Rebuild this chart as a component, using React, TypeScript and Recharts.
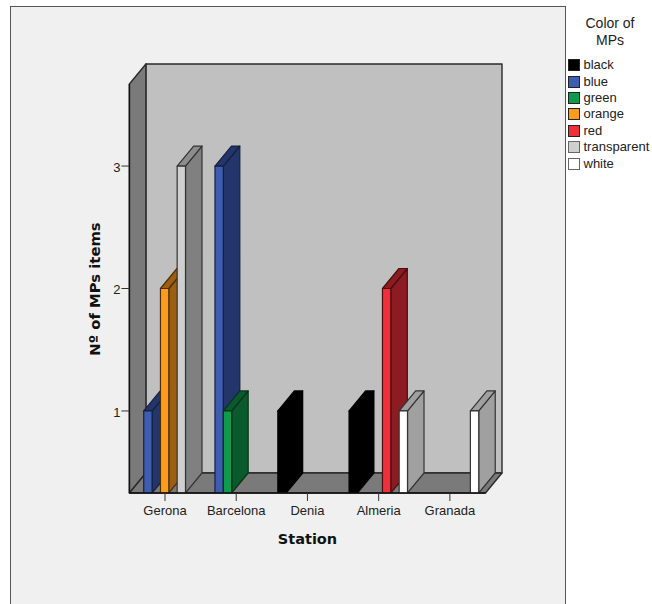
import React from "react";
import { BarChart, Bar, XAxis, YAxis, ReferenceArea, Legend } from "recharts";

const stations = ["Gerona", "Barcelona", "Denia", "Almeria", "Granada"];
const black = [null, null, 1, 1, null];
const blue = [1, 3, null, null, null];
const green = [null, 1, null, null, null];
const orange = [2, null, null, null, null];
const red = [null, null, null, 2, null];
const transparent = [3, null, null, null, null];
const white = [null, null, null, 1, 1];
const yTicks = [1, 2, 3];
const yDomain = [0.33, 3.67];

const data = stations.map((station, i) => ({
  station,
  black: black[i],
  blue: blue[i],
  green: green[i],
  orange: orange[i],
  red: red[i],
  transparent: transparent[i],
  white: white[i],
}));

const DX = 16.5;
const DY = 20;
const EDGE = "#2a2a2a";

type Style = { key: string; front: string; side: string; top: string; edge: string; swatchEdge: string };
const styles: Style[] = [
  { key: "black", front: "#000000", side: "#000000", top: "#000000", edge: "#000000", swatchEdge: "#222222" },
  { key: "blue", front: "#3f5db0", side: "#24356b", top: "#24356b", edge: "#14203f", swatchEdge: "#222222" },
  { key: "green", front: "#0f9a4e", side: "#0b5a2d", top: "#0b5a2d", edge: "#08331b", swatchEdge: "#222222" },
  { key: "orange", front: "#fd9b1c", side: "#9a5f13", top: "#9a5f13", edge: "#4d3008", swatchEdge: "#222222" },
  { key: "red", front: "#ef2f3a", side: "#8c1c22", top: "#8c1c22", edge: "#4a0e12", swatchEdge: "#222222" },
  { key: "transparent", front: "#cfcfcf", side: "#808080", top: "#8c8c8c", edge: "#333333", swatchEdge: "#666666" },
  { key: "white", front: "#ffffff", side: "#a0a0a0", top: "#a0a0a0", edge: "#333333", swatchEdge: "#666666" },
];

const Bar3D = (style: Style) => (props: any) => {
  const { x, y, width, height, value } = props;
  if (value == null || !height) return null;
  const b = y + height;
  const r = x + width;
  const common = { stroke: style.edge, strokeWidth: 1.2, strokeLinejoin: "round" as const };
  return (
    <g>
      <polygon points={`${r},${y} ${r + DX},${y - DY} ${r + DX},${b - DY} ${r},${b}`} fill={style.side} {...common} />
      <polygon points={`${x},${y} ${x + DX},${y - DY} ${r + DX},${y - DY} ${r},${y}`} fill={style.top} {...common} />
      <rect x={x} y={y} width={width} height={height} fill={style.front} {...common} />
    </g>
  );
};

const Walls = (props: any) => {
  const { x, y, width, height } = props;
  const r = x + width;
  const b = y + height;
  const common = { stroke: EDGE, strokeWidth: 1.4, strokeLinejoin: "round" as const };
  return (
    <g>
      <rect x={x + DX} y={y - DY} width={width} height={height} fill="#c0c0c0" {...common} />
      <polygon points={`${x},${b} ${x},${y} ${x + DX},${y - DY} ${x + DX},${b - DY}`} fill="#7a7a7a" {...common} />
      <polygon points={`${x},${b} ${r},${b} ${r + DX},${b - DY} ${x + DX},${b - DY}`} fill="#7a7a7a" {...common} />
    </g>
  );
};

const LegendBox = () => (
  <div style={{ position: "absolute", left: 0, top: 0, width: 86, fontFamily: "'Liberation Sans', Arial, sans-serif", color: "#222" }}>
    <div style={{ fontSize: 14, lineHeight: "17px", textAlign: "center", width: 84, height: 42 }}>
      Color of
      <br />
      MPs
    </div>
    {styles.map((s) => (
      <div key={s.key} style={{ display: "flex", alignItems: "center", height: 16.4, fontSize: 13, lineHeight: "16px" }}>
        <span
          style={{
            display: "inline-block",
            boxSizing: "border-box",
            width: 12,
            height: 12,
            background: s.front,
            border: `1.5px solid ${s.swatchEdge}`,
            marginRight: 3.5,
            flex: "none",
          }}
        />
        <span style={{ whiteSpace: "nowrap" }}>{s.key}</span>
      </div>
    ))}
  </div>
);

const YTitle = () => (
  <text
    x={94}
    y={289}
    transform="rotate(-90 94 289)"
    textAnchor="middle"
    dominantBaseline="central"
    fontFamily="'DejaVu Sans', Verdana, sans-serif"
    fontWeight="bold"
    fontSize={14.8}
    fill="#111"
  >
    Nº of MPs items
  </text>
);

const XTitle = () => (
  <text
    x={307.5}
    y={538.5}
    textAnchor="middle"
    dominantBaseline="central"
    fontFamily="'DejaVu Sans', Verdana, sans-serif"
    fontWeight="bold"
    fontSize={14.5}
    fill="#111"
  >
    Station
  </text>
);

const tickFont = { fontFamily: "'Liberation Sans', Arial, sans-serif", fontSize: 13, fill: "#222" };

export default function App() {
  return (
    <div style={{ position: "absolute", left: 0, top: 0, width: 652, height: 604, background: "#ffffff", overflow: "hidden" }}>
      <div
        style={{
          position: "absolute",
          left: 10,
          top: 6,
          width: 556,
          height: 620,
          boxSizing: "border-box",
          background: "#f0f0f0",
          border: "1.5px solid #555555",
        }}
      />
      <div style={{ position: "absolute", left: 0, top: 0 }}>
        <BarChart
          width={652}
          height={604}
          data={data}
          barSize={8.35}
          barGap={0}
          margin={{ top: 84, right: 166.5, bottom: 71, left: 94.4 }}
        >
          <ReferenceArea y1={yDomain[0]} y2={yDomain[1]} ifOverflow="visible" shape={Walls} />
          <XAxis
            dataKey="station"
            height={40}
            interval={0}
            tick={tickFont}
            tickSize={8}
            tickMargin={5}
            axisLine={{ stroke: "#111", strokeWidth: 1.4 }}
            tickLine={{ stroke: "#333" }}
            label={<XTitle />}
          />
          <YAxis
            type="number"
            domain={yDomain}
            ticks={yTicks}
            width={35}
            tick={{ ...tickFont, dy: 1 }}
            tickSize={8}
            tickMargin={1}
            allowDataOverflow
            axisLine={{ stroke: "#111", strokeWidth: 1.4 }}
            tickLine={{ stroke: "#333" }}
            label={<YTitle />}
          />
          {styles.map((s) => (
            <Bar key={s.key} dataKey={s.key} shape={Bar3D(s)} isAnimationActive={false} />
          ))}
          <Legend
            layout="horizontal"
            verticalAlign="middle"
            align="center"
            content={<LegendBox />}
            wrapperStyle={{ left: 568, top: 15, width: 84, height: 165, position: "absolute" }}
          />
        </BarChart>
      </div>
    </div>
  );
}
